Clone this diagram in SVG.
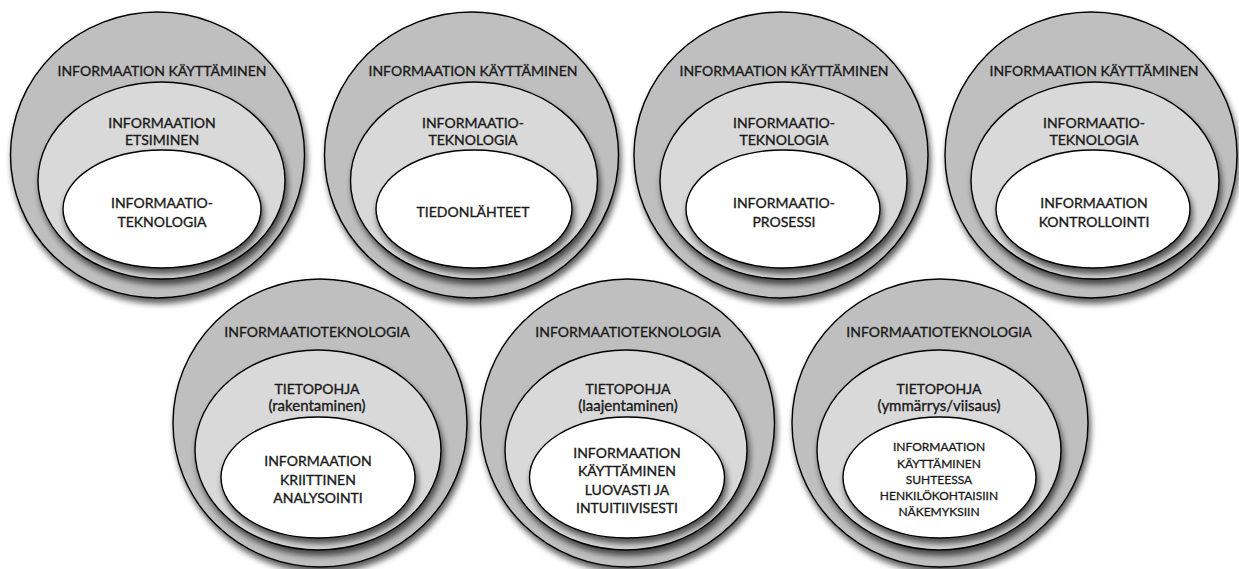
<svg xmlns="http://www.w3.org/2000/svg" width="1239" height="569" viewBox="0 0 1239 569">
<style>
.o{fill:#bfbfbf;stroke:#000;stroke-width:1.4;filter:url(#sh)}
.m{fill:#d9d9d9;stroke:#000;stroke-width:1.4;filter:url(#sh)}
.w{fill:#fff;stroke:#000;stroke-width:1.4;filter:url(#sh)}
text{font-family:Lato,"Liberation Sans",sans-serif;font-size:14px;fill:#1a1a1a;stroke:#1a1a1a;stroke-width:0.35;text-anchor:middle}
.s{font-size:12px;stroke-width:0.3}
.p{font-size:15px}
</style>
<defs>
<filter id="sh" x="-10%" y="-10%" width="125%" height="130%">
<feGaussianBlur in="SourceAlpha" stdDeviation="3"/>
<feOffset dx="2" dy="5"/>
<feComponentTransfer><feFuncA type="linear" slope="0.65"/></feComponentTransfer>
<feMerge><feMergeNode/><feMergeNode in="SourceGraphic"/></feMerge>
</filter>
</defs>
<rect width="1239" height="569" fill="#fff"/>

<g id="node-1">
<ellipse class="o" cx="157.5" cy="155" rx="147" ry="143"/>
<ellipse class="m" cx="161.5" cy="180.5" rx="123.5" ry="98.5"/>
<ellipse class="w" cx="162" cy="209" rx="99" ry="59"/>
<text x="162" y="76">INFORMAATION KÄYTTÄMINEN</text>
<text x="162" y="127.5">INFORMAATION</text>
<text x="162" y="145">ETSIMINEN</text>
<text x="162" y="207.5">INFORMAATIO-</text>
<text x="162" y="226.5">TEKNOLOGIA</text>
</g>

<g id="node-2">
<ellipse class="o" cx="471.5" cy="155" rx="147" ry="143"/>
<ellipse class="m" cx="474" cy="180.5" rx="123.5" ry="98.5"/>
<ellipse class="w" cx="474" cy="209" rx="98" ry="59"/>
<text x="473" y="76">INFORMAATION KÄYTTÄMINEN</text>
<text x="473" y="127.5">INFORMAATIO-</text>
<text x="473" y="145">TEKNOLOGIA</text>
<text x="473" y="217">TIEDONLÄHTEET</text>
</g>

<g id="node-3">
<ellipse class="o" cx="781" cy="155" rx="147" ry="143"/>
<ellipse class="m" cx="783.5" cy="180.5" rx="123.5" ry="98.5"/>
<ellipse class="w" cx="783" cy="209" rx="97" ry="59"/>
<text x="784" y="76">INFORMAATION KÄYTTÄMINEN</text>
<text x="784" y="127.5">INFORMAATIO-</text>
<text x="784" y="145">TEKNOLOGIA</text>
<text x="784" y="207.5">INFORMAATIO-</text>
<text x="784" y="226.5">PROSESSI</text>
</g>

<g id="node-4">
<ellipse class="o" cx="1091" cy="155" rx="146" ry="143"/>
<ellipse class="m" cx="1095" cy="180.5" rx="124" ry="98.5"/>
<ellipse class="w" cx="1093" cy="209" rx="97" ry="59"/>
<text x="1094" y="76">INFORMAATION KÄYTTÄMINEN</text>
<text x="1094" y="127.5">INFORMAATIO-</text>
<text x="1094" y="145">TEKNOLOGIA</text>
<text x="1094" y="208">INFORMAATION</text>
<text x="1094" y="227">KONTROLLOINTI</text>
</g>

<g id="node-5">
<ellipse class="o" cx="320" cy="423" rx="147" ry="144"/>
<ellipse class="m" cx="318" cy="450" rx="123" ry="100"/>
<ellipse class="w" cx="318" cy="477.5" rx="97" ry="60.5"/>
<text x="317" y="337">INFORMAATIOTEKNOLOGIA</text>
<text x="317" y="393.5">TIETOPOHJA</text>
<text class="p" x="317" y="411">(rakentaminen)</text>
<text x="318" y="466">INFORMAATION</text>
<text x="318" y="484.5">KRIITTINEN</text>
<text x="318" y="503">ANALYSOINTI</text>
</g>

<g id="node-6">
<ellipse class="o" cx="627.5" cy="423" rx="147" ry="144"/>
<ellipse class="m" cx="626" cy="450" rx="121" ry="100"/>
<ellipse class="w" cx="627" cy="477.5" rx="97.5" ry="60.5"/>
<text x="628" y="337">INFORMAATIOTEKNOLOGIA</text>
<text x="628" y="393.5">TIETOPOHJA</text>
<text class="p" x="628" y="411">(laajentaminen)</text>
<text x="627" y="457.5">INFORMAATION</text>
<text x="627" y="476">KÄYTTÄMINEN</text>
<text x="627" y="494.5">LUOVASTI JA</text>
<text x="627" y="513">INTUITIIVISESTI</text>
</g>

<g id="node-7">
<ellipse class="o" cx="940" cy="423" rx="148" ry="144"/>
<ellipse class="m" cx="939" cy="450" rx="122" ry="100"/>
<ellipse class="w" cx="939.5" cy="477.5" rx="96.5" ry="60.5"/>
<text x="939" y="337">INFORMAATIOTEKNOLOGIA</text>
<text x="939" y="393.5">TIETOPOHJA</text>
<text class="p" x="939" y="411">(ymmärrys/viisaus)</text>
<text class="s" x="939" y="451">INFORMAATION</text>
<text class="s" x="939" y="467.5">KÄYTTÄMINEN</text>
<text class="s" x="939" y="483.5">SUHTEESSA</text>
<text class="s" x="939" y="500">HENKILÖKOHTAISIIN</text>
<text class="s" x="939" y="516">NÄKEMYKSIIN</text>
</g>

<g id="connectors"/>
</svg>
